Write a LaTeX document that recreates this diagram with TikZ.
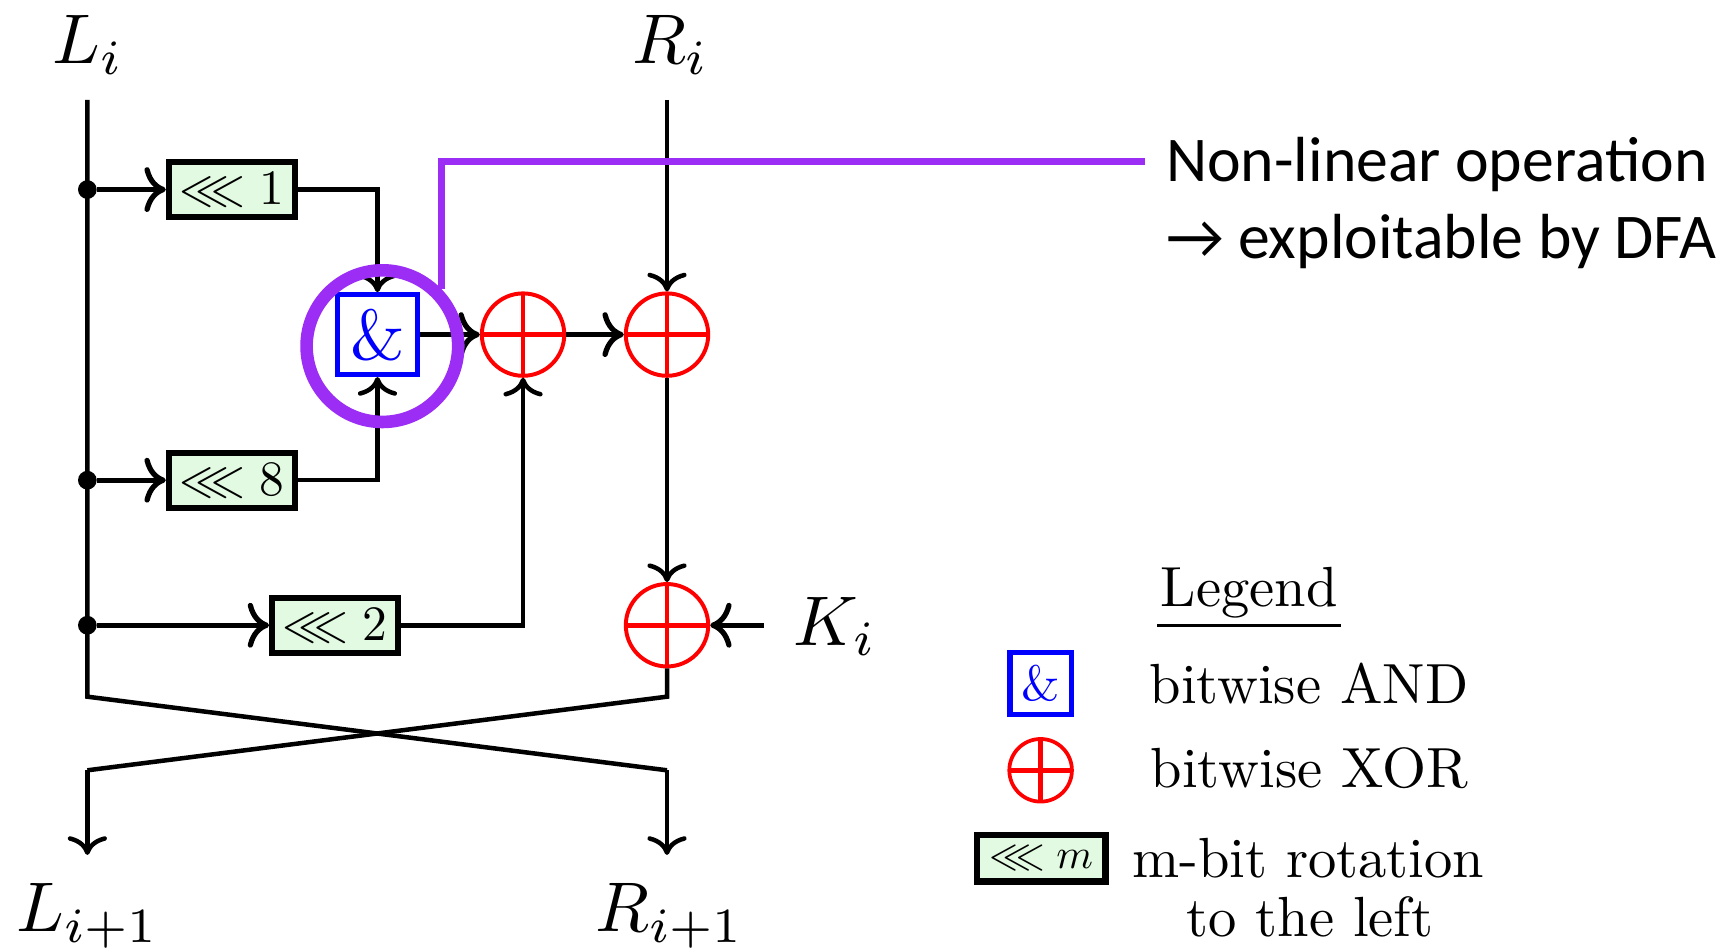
\documentclass[tikz,border=0pt]{standalone}
\usepackage{amssymb}
\usepackage{fontspec}
\newfontfamily\calib{Carlito}
\usetikzlibrary{arrows.meta,calc}
\definecolor{hlpurple}{RGB}{155,45,245}
\definecolor{mint}{RGB}{225,250,225}
\begin{document}
\begin{tikzpicture}[x=1pt,y=-1pt,
  thinl/.style={line width=4.1pt},
  thickl/.style={line width=4.8pt},
  arr/.style={-{To[scale=1.6]}},
  rotbox/.style={draw,line width=5.2pt,fill=mint,minimum width=115pt,minimum height=50pt,inner sep=0pt},
  andbox/.style={draw=blue,line width=4.3pt,minimum size=73pt,inner sep=0pt,text=blue},
  xorop/.style={circle,draw=red,line width=3.6pt,minimum size=75pt,inner sep=0pt,
    path picture={\draw[red,line width=4.2pt] (path picture bounding box.north) -- (path picture bounding box.south) (path picture bounding box.west) -- (path picture bounding box.east);}},
  dot/.style={circle,fill,inner sep=0pt,minimum size=17pt},
  lbl/.style={inner sep=0pt,anchor=base west},
  note/.style={font=\calib\fontsize{58}{60}\selectfont,inner sep=0pt,anchor=base west}
]
\useasboundingbox (0,0) rectangle (1568,864);

% labels
\node[lbl] (Li) at (48,58) {\scalebox{6.4}{$L_i$}};
\node[lbl] (Ri) at (575,58) {\scalebox{6.4}{$R_i$}};
\node[lbl] (Ki) at (722,587) {\scalebox{6.4}{$K_i$}};
\node[lbl] (Li1) at (15,848) {\scalebox{6.4}{$L_{i+1}$}};
\node[lbl] (Ri1) at (542,848) {\scalebox{6.4}{$R_{i+1}$}};

% coordinates
\coordinate (Ltop) at (79.5,91);
\coordinate (Rtop) at (607,91);
\coordinate (Lbot) at (79.5,634);
\coordinate (Rbot) at (607,634);
\coordinate (Lx) at (79.5,701);
\coordinate (Rx) at (607,701);
\coordinate (Lend) at (79.5,778);
\coordinate (Rend) at (607,778);
\coordinate (Kin) at (695,569);

% dots
\node[dot] (d1) at (79.5,172.5) {};
\node[dot] (d2) at (79.5,437) {};
\node[dot] (d3) at (79.5,569) {};

% boxes
\node[rotbox] (r1) at (211,172.5) {\scalebox{4.5}{$\lll 1$}};
\node[rotbox] (r8) at (211,437) {\scalebox{4.5}{$\lll 8$}};
\node[rotbox] (r2) at (305,569) {\scalebox{4.5}{$\lll 2$}};
\node[andbox] (and) at (343.5,304.5) {\scalebox{6.4}{\&}};
\node[xorop] (xa) at (476,304.5) {};
\node[xorop] (xb) at (607,304.5) {};
\node[xorop] (xc) at (607,569) {};

% connectors
\draw[thinl] (Ltop) -- (Lbot) -- (Rx);
\draw[thinl,arr] (Rx) -- (Rend);
\draw[thinl] (xc.south) -- (Rbot) -- (Lx);
\draw[thinl,arr] (Lx) -- (Lend);
\draw[thinl,arr] (Rtop) -- (xb.north);
\draw[thinl,arr] (xb.south) -- (xc.north);
\draw[thickl,arr] (d1) -- (r1.west);
\draw[thickl,arr] (d2) -- (r8.west);
\draw[thickl,arr] (d3) -- (r2.west);
\draw[thinl,arr] (r1.east) -| (and.north);
\draw[thinl,arr] (r8.east) -| (and.south);
\draw[thinl,arr] (r2.east) -| (xa.south);
\draw[thickl,arr] (and.east) -- (xa.west);
\draw[thickl,arr] (xa.east) -- (xb.west);
\draw[thickl,arr] (Kin) -- (xc.east);

% highlight
\node[circle,draw=hlpurple,line width=11.5pt,minimum size=138pt,inner sep=0pt] (hl) at (348,315) {};
\coordinate (cend) at (1042,147);
\draw[hlpurple,line width=6.7pt] (hl.44) |- (cend);
\node[note] (n1) at (1061,165.5) {Non-linear operation};
\node[note] (n2) at (1061,235) {→ exploitable by DFA};

% legend
\node[inner sep=0pt,anchor=base] (leg) at (1137,552) {\scalebox{5.15}{Legend}};
\coordinate (u1) at (1053,569);
\coordinate (u2) at (1220,569);
\draw[line width=3pt] (u1) -- (u2);
\node[draw=blue,line width=5pt,minimum size=56pt,inner sep=0pt,text=blue] (land) at (947,622) {\scalebox{4.5}{\&}};
\node[xorop,minimum size=57pt,line width=3.4pt] (lxor) at (947,701) {};
\node[draw,line width=6pt,fill=mint,minimum width=117pt,minimum height=42pt,inner sep=0pt] (lrot) at (947.5,781) {\scalebox{3.8}{$\lll m$}};
\node[lbl] (t1) at (1046,640) {\scalebox{5.15}{bitwise AND}};
\node[lbl] (t2) at (1047,717) {\scalebox{5.15}{bitwise XOR}};
\node[lbl] (t3) at (1030,799) {\scalebox{5.15}{m-bit rotation}};
\node[inner sep=0pt,anchor=base] (t4) at (1192,852) {\scalebox{5.15}{to the left}};
\end{tikzpicture}
\end{document}
